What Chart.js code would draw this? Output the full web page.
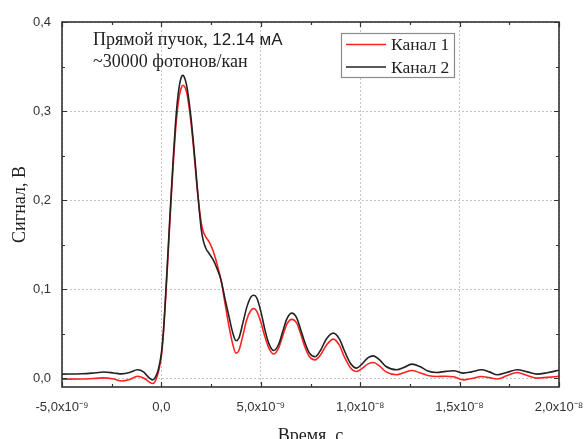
<!DOCTYPE html>
<html>
<head>
<meta charset="utf-8">
<script src="https://cdn.jsdelivr.net/npm/chart.js@4/dist/chart.umd.min.js"></script>
<style>
  html, body { margin: 0; padding: 0; background: #fff; overflow: hidden; }
  #wrap { width: 600px; height: 450px; }
</style>
</head>
<body>
<div id="wrap"><canvas id="c" width="600" height="450"></canvas></div>
<script>
// Time axis, nanoseconds
const timeNs = [
  -5.0, -4.0, -3.3, -2.9, -2.4, -2.0, -1.6, -1.2, -0.9, -0.6, -0.45, -0.3, -0.15,
  0.0, 0.1, 0.2, 0.3, 0.4, 0.5, 0.6, 0.7, 0.8, 0.9, 1.0, 1.08, 1.2, 1.3, 1.4, 1.5,
  1.6, 1.7, 1.8, 1.9, 2.0, 2.1, 2.25, 2.4, 2.6, 2.8, 3.0, 3.2, 3.4, 3.6, 3.75, 3.9,
  4.1, 4.3, 4.5, 4.65, 4.8, 5.0, 5.2, 5.4, 5.65, 5.9, 6.1, 6.3, 6.55, 6.8, 7.0, 7.2,
  7.45, 7.73, 8.0, 8.3, 8.65, 8.95, 9.2, 9.5, 9.82, 10.1, 10.4, 10.66, 10.95, 11.3,
  11.84, 12.2, 12.6, 13.0, 13.4, 13.85, 14.3, 14.7, 15.2, 15.6, 16.1, 16.5, 16.9,
  17.4, 17.9, 18.4, 18.9, 19.4, 20.0
];

// Канал 1 signal, volts
const channel1 = [
  -0.0012, -0.0010, -0.0003, 0.0002, -0.0010, -0.0032, -0.0015, 0.0020, 0.0002, -0.0045, -0.0060, -0.0030, 0.007,
  0.025, 0.050, 0.085, 0.124, 0.165, 0.205, 0.242, 0.275, 0.300, 0.317, 0.326, 0.329, 0.326, 0.318, 0.303, 0.285,
  0.263, 0.238, 0.213, 0.192, 0.175, 0.165, 0.158, 0.153, 0.143, 0.128, 0.110, 0.084, 0.058, 0.037, 0.028, 0.031,
  0.048, 0.066, 0.076, 0.078, 0.075, 0.063, 0.047, 0.034, 0.027, 0.034, 0.047, 0.060, 0.066, 0.062, 0.050, 0.036,
  0.024, 0.0205, 0.026, 0.037, 0.0438, 0.037, 0.024, 0.012, 0.0074, 0.011, 0.016, 0.0175, 0.014, 0.007,
  0.0037, 0.006, 0.0086, 0.006, 0.003, 0.0018, 0.002, 0.0015, -0.002, -0.0005, 0.0018, 0.0005, -0.001,
  0.003, 0.0063, 0.003, 0.0, 0.0008, 0.002
];

// Канал 2 signal, volts
const channel2 = [
  0.0045, 0.0048, 0.0060, 0.0068, 0.0058, 0.0047, 0.0062, 0.0093, 0.0070, 0.0000, -0.0020, 0.0010, 0.010,
  0.028, 0.052, 0.088, 0.128, 0.170, 0.210, 0.248, 0.283, 0.310, 0.328, 0.338, 0.340, 0.335, 0.325, 0.309, 0.290,
  0.267, 0.242, 0.215, 0.190, 0.168, 0.155, 0.145, 0.140, 0.133, 0.123, 0.110, 0.089, 0.069, 0.050, 0.042, 0.045,
  0.062, 0.080, 0.091, 0.093, 0.090, 0.075, 0.055, 0.039, 0.031, 0.038, 0.052, 0.066, 0.073, 0.068, 0.055, 0.041,
  0.028, 0.024, 0.031, 0.044, 0.0505, 0.044, 0.031, 0.017, 0.0112, 0.016, 0.023, 0.025, 0.021, 0.013,
  0.0093, 0.012, 0.0157, 0.013, 0.008, 0.0063, 0.0075, 0.0082, 0.0056, 0.007, 0.0093, 0.007, 0.0037,
  0.0065, 0.0093, 0.007, 0.0045, 0.006, 0.0088
];

const seriesNames = ['Канал 1', 'Канал 2'];
const seriesColors = ['#ff2222', '#222222'];

const xTicks = [-5, 0, 5, 10, 15, 20];
const xTickLabels = ['-5,0x10\u207B\u2079', '0,0', '5,0x10\u207B\u2079', '1,0x10\u207B\u2078', '1,5x10\u207B\u2078', '2,0x10\u207B\u2078'];
const yTicks = [0, 0.1, 0.2, 0.3, 0.4];
const yTickLabels = ['0,0', '0,1', '0,2', '0,3', '0,4'];

const noteLine1 = [['Прямой пучок, ', 'serif'], ['12.14 мА', 'sans']];
const noteLine2 = '~30000 фотонов/кан';

const SERIF = '"Liberation Serif", "DejaVu Serif", serif';
const SANS = '"Liberation Sans", Arial, sans-serif';

// Frame plus inward major and minor ticks on all four sides
const framePlugin = {
  id: 'frame',
  afterDatasetsDraw(chart) {
    const { ctx, chartArea: a, scales: { x, y } } = chart;
    ctx.save();
    ctx.strokeStyle = '#333';
    ctx.lineWidth = 1.6;
    ctx.strokeRect(a.left, a.top, a.right - a.left, a.bottom - a.top);
    ctx.lineWidth = 1.2;
    const xs = [];
    for (let i = 0; i < xTicks.length; i++) {
      xs.push([xTicks[i], 5]);
      if (i < xTicks.length - 1) xs.push([(xTicks[i] + xTicks[i + 1]) / 2, 3]);
    }
    const ys = [];
    for (let i = 0; i < yTicks.length; i++) {
      ys.push([yTicks[i], 5]);
      if (i < yTicks.length - 1) ys.push([(yTicks[i] + yTicks[i + 1]) / 2, 3]);
    }
    ctx.beginPath();
    xs.forEach(([v, len]) => {
      const px = Math.round(x.getPixelForValue(v)) + 0.5;
      ctx.moveTo(px, a.bottom); ctx.lineTo(px, a.bottom - len);
      ctx.moveTo(px, a.top); ctx.lineTo(px, a.top + len);
    });
    ys.forEach(([v, len]) => {
      const py = Math.round(y.getPixelForValue(v)) + 0.5;
      ctx.moveTo(a.left, py); ctx.lineTo(a.left + len, py);
      ctx.moveTo(a.right, py); ctx.lineTo(a.right - len, py);
    });
    ctx.stroke();
    ctx.restore();
  }
};

// Boxed legend in the upper middle of the plot
const legendPlugin = {
  id: 'boxLegend',
  afterDraw(chart) {
    const { ctx, chartArea: a } = chart;
    const bx = a.left + 279, by = a.top + 11, bw = 113, bh = 44;
    ctx.save();
    ctx.fillStyle = '#fff';
    ctx.fillRect(bx, by, bw, bh);
    ctx.strokeStyle = '#8a8a8a';
    ctx.lineWidth = 1.2;
    ctx.strokeRect(bx + 0.5, by + 0.5, bw, bh);
    ctx.font = '17.5px ' + SERIF;
    ctx.textBaseline = 'middle';
    ctx.fillStyle = '#222';
    chart.data.datasets.forEach((ds, i) => {
      const cy = by + 11.5 + i * 22.5;
      ctx.strokeStyle = ds.borderColor;
      ctx.lineWidth = 1.6;
      ctx.beginPath();
      ctx.moveTo(bx + 5, cy); ctx.lineTo(bx + 45, cy);
      ctx.stroke();
      ctx.fillText(ds.label, bx + 50, cy + 1);
    });
    ctx.restore();
  }
};

// Two-line note in the upper-left corner of the plot
const notePlugin = {
  id: 'note',
  afterDraw(chart) {
    const { ctx, chartArea: a } = chart;
    ctx.save();
    ctx.fillStyle = '#222';
    ctx.textBaseline = 'alphabetic';
    let x0 = a.left + 31;
    const y1 = a.top + 23, y2 = a.top + 45;
    noteLine1.forEach(([txt, face]) => {
      ctx.font = face === 'serif' ? '18px ' + SERIF : '17px ' + SANS;
      ctx.fillText(txt, x0, y1);
      x0 += ctx.measureText(txt).width;
    });
    ctx.font = '18px ' + SERIF;
    ctx.fillText(noteLine2, a.left + 31, y2);
    ctx.restore();
  }
};

const gridStyle = { color: '#c4c4c4', lineWidth: 1, drawTicks: false };

new Chart(document.getElementById('c'), {
  type: 'line',
  data: {
    labels: timeNs,
    datasets: [
      {
        label: seriesNames[0],
        data: timeNs.map((t, i) => ({ x: t, y: channel1[i] })),
        borderColor: seriesColors[0],
        borderWidth: 1.6,
        pointRadius: 0,
        cubicInterpolationMode: 'monotone',
        order: 2
      },
      {
        label: seriesNames[1],
        data: timeNs.map((t, i) => ({ x: t, y: channel2[i] })),
        borderColor: seriesColors[1],
        borderWidth: 1.6,
        pointRadius: 0,
        cubicInterpolationMode: 'monotone',
        order: 1
      }
    ]
  },
  options: {
    responsive: false,
    animation: false,
    devicePixelRatio: 1,
    layout: { padding: { left: 0, right: 41, top: 22, bottom: 0 } },
    plugins: { legend: { display: false }, tooltip: { enabled: false } },
    scales: {
      x: {
        type: 'linear',
        min: -5,
        max: 20,
        afterBuildTicks: s => { s.ticks = xTicks.map(v => ({ value: v })); },
        afterFit: s => { s.height = 63; },
        grid: gridStyle,
        border: { display: false, dash: [2, 2] },
        ticks: {
          padding: 13,
          color: '#333',
          font: { family: SANS, size: 13 },
          maxRotation: 0,
          autoSkip: false,
          callback: (v, i) => xTickLabels[i]
        },
        title: {
          display: true,
          text: 'Время, с',
          color: '#222',
          font: { family: SERIF, size: 18 },
          padding: { top: 0, bottom: 3 }
        }
      },
      y: {
        min: -0.01,
        max: 0.4,
        afterBuildTicks: s => { s.ticks = yTicks.map(v => ({ value: v })); },
        afterFit: s => { s.width = 62; },
        grid: gridStyle,
        border: { display: false, dash: [2, 2] },
        ticks: {
          padding: 11,
          color: '#333',
          font: { family: SANS, size: 13 },
          autoSkip: false,
          callback: (v, i) => yTickLabels[i]
        },
        title: {
          display: true,
          text: 'Сигнал, В',
          color: '#222',
          font: { family: SERIF, size: 18 },
          padding: { top: 9, bottom: 0 }
        }
      }
    }
  },
  plugins: [framePlugin, legendPlugin, notePlugin]
});
</script>
</body>
</html>
